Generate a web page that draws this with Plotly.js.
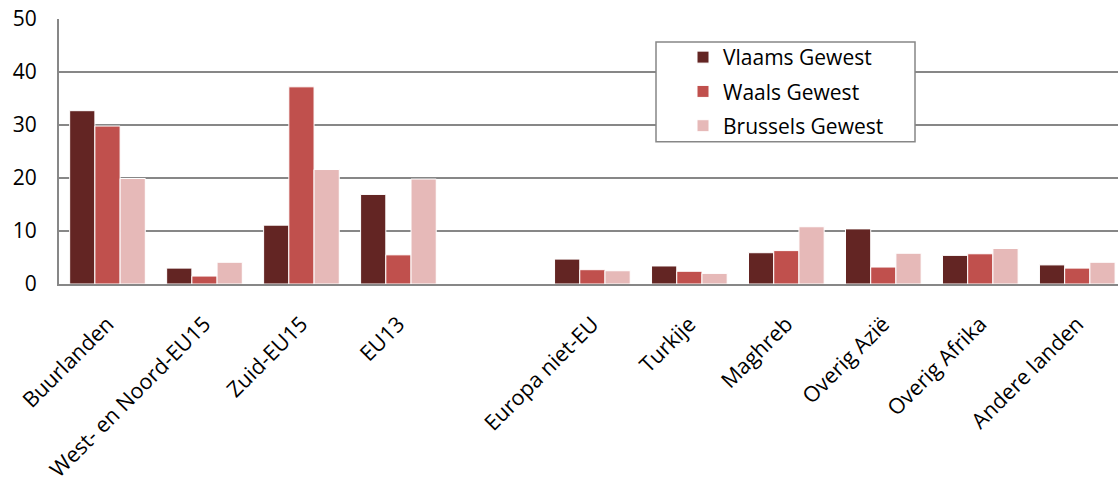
<!DOCTYPE html>
<html>
<head>
<meta charset="utf-8">
<script src="https://cdn.plot.ly/plotly-3.0.1.min.js"></script>
<style>html,body{margin:0;padding:0;background:#fff;}#chart{width:1118px;height:487px;}</style>
</head>
<body>
<div id="chart"></div>
<script>
const categories = ["Buurlanden", "West- en Noord-EU15", "Zuid-EU15", "EU13", " ", "Europa niet-EU", "Turkije", "Maghreb", "Overig Azië", "Overig Afrika", "Andere landen"];
const seriesNames = ["Vlaams Gewest", "Waals Gewest", "Brussels Gewest"];
const vlaams   = [32.7, 3.0, 11.1, 16.9, null, 4.7, 3.4, 5.9, 10.4, 5.4, 3.6];
const waals    = [29.8, 1.5, 37.2, 5.5, null, 2.7, 2.4, 6.3, 3.2, 5.7, 3.0];
const brussels = [19.9, 4.1, 21.6, 19.8, null, 2.5, 2.0, 10.8, 5.8, 6.7, 4.1];
const yTicks = [0, 10, 20, 30, 40, 50];

const colors = ["#632523", "#C0504D", "#E6B9B8"];
const values = [vlaams, waals, brussels];
const font = "Open Sans, Noto Sans, sans-serif";

const data = values.map((v, i) => ({
  type: "bar",
  name: seriesNames[i],
  x: categories,
  y: v,
  legendgroup: "g" + i,
  marker: {color: colors[i], line: {color: "#ffffff", width: 1}},
  hoverinfo: "x+y+name"
}));

const layout = {
  width: 1118,
  height: 487,
  margin: {l: 59, r: 0, t: 19, b: 202.5, pad: 0},
  paper_bgcolor: "#ffffff",
  plot_bgcolor: "#ffffff",
  barmode: "group",
  bargap: 0.22,
  bargroupgap: 0,
  font: {family: font, size: 21, color: "#000000"},
  xaxis: {
    type: "category",
    categoryorder: "array",
    categoryarray: categories,
    range: [-0.5, 10.42],
    tickangle: -45,
    showgrid: false,
    showline: true,
    linecolor: "#878787",
    linewidth: 2,
    ticks: "outside",
    ticklen: 17,
    tickcolor: "rgba(255,255,255,0)",
    tickfont: {family: font, size: 21.5, color: "#000000"},
    fixedrange: true
  },
  yaxis: {
    range: [0, 50],
    tickvals: yTicks,
    ticktext: yTicks.map(String),
    showgrid: true,
    gridcolor: "#878787",
    gridwidth: 1.5,
    zeroline: false,
    showline: true,
    linecolor: "#878787",
    linewidth: 2,
    ticks: "outside",
    ticklen: 16,
    tickcolor: "rgba(255,255,255,0)",
    tickfont: {family: font, size: 21, color: "#000000"},
    fixedrange: true
  },
  showlegend: true,
  legend: {
    x: (683 - 59) / 1059,
    y: (284.5 - 37) / 265.5,
    xanchor: "left",
    yanchor: "top",
    bgcolor: "rgba(0,0,0,0)",
    borderwidth: 0,
    traceorder: "grouped",
    tracegroupgap: 4,
    font: {family: font, size: 21, color: "#000000"}
  },
  shapes: [{
    type: "rect",
    xref: "paper", yref: "paper",
    x0: (656 - 59) / 1059, x1: (915 - 59) / 1059,
    y0: (284.5 - 142) / 265.5, y1: (284.5 - 42) / 265.5,
    line: {color: "#878787", width: 1.5},
    fillcolor: "#ffffff",
    layer: "above"
  }]
};

Plotly.newPlot("chart", data, layout, {displayModeBar: false, staticPlot: true});
</script>
</body>
</html>
